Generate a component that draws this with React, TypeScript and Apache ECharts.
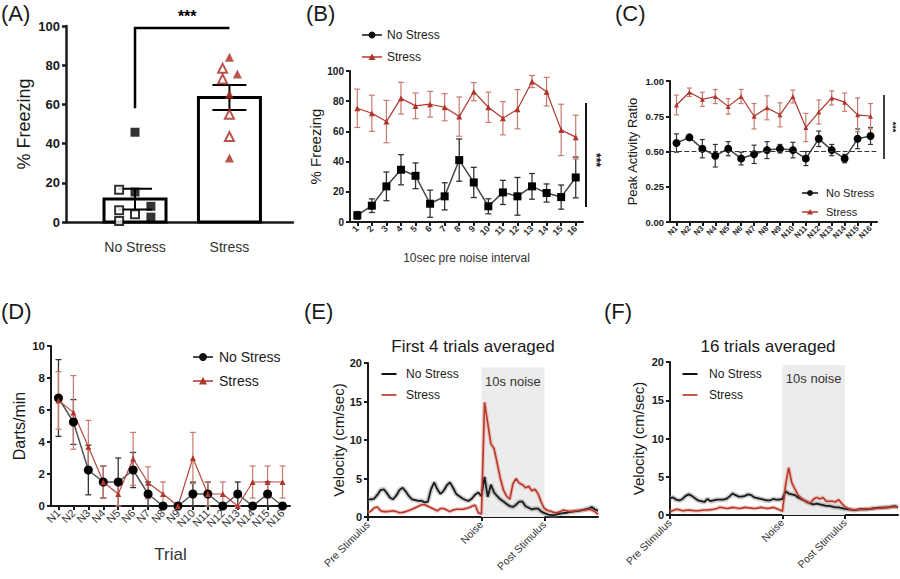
import { useEffect, useRef } from 'react';
import * as echarts from 'echarts';

const FONT = 'Arial, "Liberation Sans", Helvetica, sans-serif';
const INK = '#1a1a1a';
const RED = '#b0362c';
const RED_ERR = '#c97a70';
const GREY_BAND = '#8e8e8e';
const RED_BAND = '#e39a90';

// ---------- Panel A ----------
const A_GROUPS = ['No Stress', 'Stress'];
const A_MEAN = [11.7, 63.5];
const A_SEM = [5.3, 6.4];
const A_NS_FILLED = [45.8, 15.3, 8, 2.5];
const A_NS_OPEN = [16.5, 6, 3.9, 0.5];
const A_S_FILLED = [84, 75.5, 65.2, 32.6];
const A_S_OPEN = [78.4, 73, 55, 43.6];
const A_BRACKET_LOW = 58;
const A_BRACKET_HIGH = 99;
// layout (axis units) for the categorical positions and point jitter
const A_POS = [0.304, 0.72];
const A_JIT_NS_FILLED = [0, 0, 0.07, 0.07];
const A_JIT_NS_OPEN = [-0.07, -0.07, 0, -0.07];
const A_JIT_S_FILLED = [0, 0.035, 0, 0];
const A_JIT_S_OPEN = [-0.03, -0.03, 0, 0];

// ---------- Panel B ----------
const B_CATS = ['1', '2', '3', '4', '5', '6', '7', '8', '9', '10', '11', '12', '13', '14', '15', '16'];
const B_NS = [4.4, 10.8, 23.6, 34.6, 30.6, 12.1, 17, 41, 26.2, 10.4, 19.6, 17, 23.6, 19.2, 16.5, 29.5];
const B_NS_ERR = [2.5, 4.5, 9.5, 10, 8.5, 9, 9, 14, 10, 5, 8, 12.5, 8.5, 6, 8, 13.5];
const B_S = [75.3, 72, 66.5, 82, 76.9, 78, 76, 69.8, 86.3, 76, 68.7, 74.7, 93, 86.3, 61, 56.2];
const B_S_ERR = [12.7, 12, 14, 10.5, 8.5, 8.5, 9, 13, 6, 10, 11, 13, 4, 9.5, 17, 14.5];

// ---------- Panel C ----------
const N_CATS = ['N1', 'N2', 'N3', 'N4', 'N5', 'N6', 'N7', 'N8', 'N9', 'N10', 'N11', 'N12', 'N13', 'N14', 'N15', 'N16'];
const C_NS = [0.56, 0.6, 0.52, 0.47, 0.52, 0.45, 0.48, 0.51, 0.52, 0.51, 0.45, 0.59, 0.51, 0.45, 0.59, 0.61];
const C_NS_ERR = [0.065, 0.02, 0.065, 0.08, 0.05, 0.045, 0.065, 0.06, 0.03, 0.055, 0.05, 0.055, 0.04, 0.03, 0.07, 0.06];
const C_S = [0.83, 0.92, 0.87, 0.89, 0.82, 0.89, 0.75, 0.81, 0.76, 0.89, 0.67, 0.78, 0.88, 0.85, 0.76, 0.75];
const C_S_ERR = [0.07, 0.03, 0.05, 0.05, 0.055, 0.05, 0.09, 0.085, 0.085, 0.045, 0.1, 0.085, 0.05, 0.065, 0.12, 0.09];
const C_CHANCE = 0.5;

// ---------- Panel D ----------
const D_NS = [6.75, 5.25, 2.25, 1.5, 1.5, 2.25, 0.75, 0, 0, 0.75, 0.75, 0, 0.75, 0, 0.75, 0];
const D_NS_ERR = [2.4, 1.4, 1.55, 1, 1.5, 1.1, 0.75, 0, 0, 0.75, 0.75, 0, 0.75, 0, 0.75, 0];
const D_S = [6.6, 5.85, 3.7, 1.5, 0.75, 2.95, 1.45, 0.75, 0, 3.0, 0.75, 0.75, 0, 1.5, 1.5, 1.5];
const D_S_ERR = [1.8, 2.3, 1.65, 1, 0.75, 1.65, 1, 0.75, 0, 1.6, 0.75, 0.75, 0, 1, 1, 1];

// ---------- Panels E / F (sample index along the trial) ----------
const T_MAX = 73;
const T_TICKS = [0, 36, 56];
const T_TICK_LABELS = ['Pre Stimulus', 'Noise', 'Post Stimulus'];
const NOISE_START = 36;
const NOISE_END = 56;
const E_NS = [2.3, 2.3, 2.4, 2.9, 3.5, 3.6, 3.1, 2.5, 2.3, 2.8, 3.5, 3.8, 3.3, 2.7, 2.3, 2.2, 2.1, 2.1, 1.9, 2.0,
  3.6, 4.5, 3.6, 3.0, 3.4, 4.1, 4.5, 3.8, 3.0, 2.7, 2.4, 2.2, 2.1, 2.4, 2.9, 3.2, 2.7, 5.2, 2.6, 4.2,
  3.2, 2.7, 2.3, 2.0, 1.7, 1.4, 1.3, 1.6, 2.0, 2.0, 1.4, 1.2, 1.0, 1.1, 1.1, 0.7, 0.5, 0.35, 0.25, 0.25,
  0.35, 0.45, 0.5, 0.55, 0.65, 0.7, 0.75, 0.8, 0.9, 1.0, 1.1, 1.3, 1.0, 0.8];
const E_S = [0.55, 0.8, 1.2, 1.3, 0.8, 0.7, 0.7, 0.75, 0.8, 0.7, 0.55, 0.6, 0.7, 0.85, 1.0, 1.2, 1.4, 1.6, 1.6, 1.4,
  1.2, 1.0, 0.8, 1.1, 1.1, 0.9, 0.7, 0.9, 1.0, 1.0, 1.0, 1.1, 1.2, 1.4, 1.55, 0.55, 0.4, 14.9, 12.2, 9.5,
  8.9, 7.0, 5.0, 3.5, 2.7, 2.3, 4.3, 5.0, 4.4, 4.2, 3.8, 4.0, 3.4, 3.6, 3.0, 1.9, 1.1, 0.85, 0.75, 0.6,
  0.55, 0.7, 0.9, 0.8, 0.7, 0.75, 0.8, 0.85, 0.9, 0.9, 1.0, 0.9, 0.7, 0.35];
const F_NS = [2.2, 2.3, 2.0, 1.9, 2.1, 2.5, 2.7, 2.5, 2.2, 1.9, 1.8, 1.7, 2.1, 1.8, 1.9, 2.0, 2.0, 2.0, 2.1, 2.4,
  2.8, 2.6, 2.4, 2.4, 2.5, 2.7, 2.6, 2.3, 2.2, 2.1, 2.0, 1.9, 1.9, 2.1, 2.0, 2.0, 2.1, 3.1, 2.8, 2.7,
  2.6, 2.3, 2.1, 1.9, 1.7, 1.5, 1.4, 1.5, 1.4, 1.3, 1.2, 1.2, 1.1, 1.0, 1.0, 0.9, 0.8, 0.75, 0.7, 0.65,
  0.7, 0.75, 0.75, 0.75, 0.8, 0.85, 0.9, 0.95, 0.95, 1.0, 1.0, 1.1, 1.15, 1.0];
const F_S = [0.45, 0.6, 0.75, 0.7, 0.55, 0.6, 0.65, 0.6, 0.55, 0.55, 0.6, 0.65, 0.65, 0.7, 0.75, 0.85, 1.0, 0.95, 0.85, 0.9,
  1.0, 0.95, 0.85, 0.9, 1.0, 0.95, 0.9, 0.85, 0.9, 1.0, 0.95, 0.85, 0.9, 1.0, 0.85, 0.7, 0.5, 3.9, 6.2, 4.2,
  3.4, 2.6, 2.2, 1.9, 1.6, 1.6, 2.1, 2.3, 2.1, 2.3, 1.8, 1.8, 1.8, 1.7, 2.0, 1.5, 1.1, 0.85, 0.7, 0.65,
  0.7, 0.75, 0.75, 0.8, 0.8, 0.85, 0.85, 0.9, 0.95, 0.95, 1.0, 1.05, 1.1, 1.0];
const E_NOISE_TOP = 19.4;
const F_NOISE_TOP = 19.6;

// ---------- helpers ----------
function errRender(capW: number, color: string, lw: number) {
  return (_p: any, api: any) => {
    const x = api.value(0);
    const m = api.value(1);
    const e = api.value(2);
    const t = api.coord([x, m + e]);
    const b = api.coord([x, m - e]);
    const h = capW / 2;
    const st = { stroke: color, lineWidth: lw };
    return {
      type: 'group',
      children: [
        { type: 'line', shape: { x1: t[0], y1: t[1], x2: b[0], y2: b[1] }, style: st },
        { type: 'line', shape: { x1: t[0] - h, y1: t[1], x2: t[0] + h, y2: t[1] }, style: st },
        { type: 'line', shape: { x1: b[0] - h, y1: b[1], x2: b[0] + h, y2: b[1] }, style: st },
      ],
    };
  };
}

function errSeries(gi: number, mean: number[], err: number[], capW: number, color: string, lw: number, z: number) {
  return {
    type: 'custom',
    xAxisIndex: gi,
    yAxisIndex: gi,
    data: mean.map((m, i) => [i, m, err[i]]),
    encode: { x: 0, y: 1 },
    renderItem: errRender(capW, color, lw),
    silent: true,
    z,
  };
}

function yAx(gi: number, min: number, max: number, interval: number, name: string, nameGap: number,
  nameSize: number, labelSize: number, lw: number, fmt?: (v: number) => string) {
  return {
    type: 'value', gridIndex: gi, min, max, interval,
    name, nameLocation: 'middle', nameGap, nameRotate: 90,
    nameTextStyle: { fontFamily: FONT, fontSize: nameSize, color: INK },
    axisLine: { show: true, lineStyle: { color: INK, width: lw } },
    axisTick: { show: true, length: 4, lineStyle: { color: INK, width: lw } },
    axisLabel: { fontFamily: FONT, fontSize: labelSize, fontWeight: 'bold', color: INK, margin: 6, formatter: fmt },
    splitLine: { show: false },
  };
}

function catX(gi: number, data: string[], labelSize: number, weight: string, lw: number,
  name?: string, nameGap?: number, nameSize?: number) {
  return {
    type: 'category', gridIndex: gi, data, boundaryGap: true,
    axisLine: { show: true, lineStyle: { color: INK, width: lw } },
    axisTick: { show: true, alignWithLabel: true, interval: 0, length: 4, lineStyle: { color: INK, width: lw } },
    axisLabel: { interval: 0, rotate: 45, fontFamily: FONT, fontSize: labelSize, fontWeight: weight, color: '#333', margin: 5 },
    name, nameLocation: 'middle', nameGap,
    nameTextStyle: { fontFamily: FONT, fontSize: nameSize, color: '#333' },
    splitLine: { show: false },
  };
}

function timeX(gi: number) {
  return {
    type: 'value', gridIndex: gi, min: 0, max: T_MAX,
    axisLine: { show: true, lineStyle: { color: INK, width: 2 } },
    axisTick: { show: true, customValues: T_TICKS, length: 4, lineStyle: { color: INK, width: 2 } },
    axisLabel: {
      customValues: T_TICKS, rotate: 45, fontFamily: FONT, fontSize: 10.5, color: '#333', margin: 6,
      formatter: (v: number) => T_TICK_LABELS[T_TICKS.indexOf(v)] ?? '',
    },
    splitLine: { show: false },
  };
}

type LegItem = { label: string; color: string; marker: 'rect' | 'circle' | 'triangle' | 'none' };
function legend(cx: number, y0: number, dy: number, lineLen: number, textX: number, fs: number, ms: number, items: LegItem[]) {
  const els: any[] = [];
  items.forEach((it, k) => {
    const y = y0 + k * dy;
    els.push({ type: 'line', shape: { x1: cx - lineLen / 2, y1: y, x2: cx + lineLen / 2, y2: y }, style: { stroke: it.color, lineWidth: it.marker === 'none' ? 2 : 1.5 } });
    if (it.marker === 'circle' || it.marker === 'rect') {
      els.push({ type: 'circle', shape: { cx, cy: y, r: ms / 2 }, style: { fill: it.color } });
    } else if (it.marker === 'triangle') {
      const h = ms * 0.85;
      els.push({ type: 'polygon', shape: { points: [[cx, y - h / 2 - 0.5], [cx - ms / 2, y + h / 2], [cx + ms / 2, y + h / 2]] }, style: { fill: it.color } });
    }
    els.push({ type: 'text', x: textX, y, style: { text: it.label, font: `${fs}px ${FONT}`, fill: INK, verticalAlign: 'middle', textVerticalAlign: 'middle' } });
  });
  return els;
}

function label(text: string, x: number, y: number, size: number, align = 'left', weight = 'normal') {
  return { type: 'text', x, y, style: { text, font: `${weight} ${size}px ${FONT}`, fill: INK, align, textAlign: align, verticalAlign: 'top', textVerticalAlign: 'top' } };
}

function buildOption() {
  const grids = [
    { left: 66, top: 26, width: 227, height: 196 },
    { left: 350, top: 71, width: 233, height: 151 },
    { left: 670, top: 81, width: 207, height: 141 },
    { left: 51, top: 346, width: 239, height: 160 },
    { left: 368, top: 363, width: 230, height: 154 },
    { left: 670, top: 362, width: 228, height: 153 },
  ];

  const xAxis: any[] = [
    {
      type: 'value', gridIndex: 0, min: 0, max: 1,
      axisLine: { show: true, lineStyle: { color: INK, width: 2.5 } },
      axisTick: { show: false },
      axisLabel: {
        customValues: A_POS, fontFamily: FONT, fontSize: 14, color: '#333', margin: 18,
        formatter: (v: number) => A_GROUPS[A_POS.indexOf(v)] ?? '',
      },
      splitLine: { show: false },
    },
    catX(1, B_CATS, 9, 'bold', 2, '10sec pre noise interval', 30, 12),
    catX(2, N_CATS, 8, 'bold', 2),
    catX(3, N_CATS, 11, 'normal', 2, 'Trial', 40, 17),
    timeX(4),
    timeX(5),
  ];

  const yAxis: any[] = [
    yAx(0, 0, 100, 20, '% Freezing', 33, 18, 13, 2.5),
    yAx(1, 0, 100, 20, '% Freezing', 27, 15, 10, 2),
    yAx(2, 0, 1, 0.25, 'Peak Activity Ratio', 31, 13, 9.5, 2, (v: number) => v.toFixed(2)),
    yAx(3, 0, 10, 2, 'Darts/min', 24, 16, 11.5, 2),
    yAx(4, 0, 20, 5, 'Velocity (cm/sec)', 22, 15, 11, 2),
    yAx(5, 0, 20, 5, 'Velocity (cm/sec)', 24, 15, 11, 2),
  ];

  const series: any[] = [];

  // ----- A -----
  series.push({
    type: 'custom', xAxisIndex: 0, yAxisIndex: 0, silent: true, z: 2,
    data: A_MEAN.map((m, i) => [A_POS[i], m, A_SEM[i]]),
    encode: { x: 0, y: 1 },
    renderItem: (_p: any, api: any) => {
      const x = api.value(0);
      const m = api.value(1);
      const e = api.value(2);
      const p0 = api.coord([x, 0]);
      const p1 = api.coord([x, m]);
      const t = api.coord([x, m + e]);
      const b = api.coord([x, m - e]);
      const w = 62;
      const cap = 17;
      const st = { stroke: '#000', lineWidth: 2 };
      return {
        type: 'group',
        children: [
          { type: 'rect', shape: { x: p1[0] - w / 2, y: p1[1], width: w, height: p0[1] - p1[1] }, style: { fill: '#fff', stroke: '#000', lineWidth: 3 } },
          { type: 'line', shape: { x1: t[0], y1: t[1], x2: b[0], y2: b[1] }, style: st },
          { type: 'line', shape: { x1: t[0] - cap, y1: t[1], x2: t[0] + cap, y2: t[1] }, style: st },
          { type: 'line', shape: { x1: b[0] - cap, y1: b[1], x2: b[0] + cap, y2: b[1] }, style: st },
        ],
      };
    },
  });
  series.push({
    type: 'scatter', xAxisIndex: 0, yAxisIndex: 0, symbol: 'rect', symbolSize: 9, z: 5,
    data: A_NS_FILLED.map((v, i) => [A_POS[0] + A_JIT_NS_FILLED[i], v]),
    itemStyle: { color: '#000' },
  });
  series.push({
    type: 'scatter', xAxisIndex: 0, yAxisIndex: 0, symbol: 'rect', symbolSize: 8, z: 5,
    data: A_NS_OPEN.map((v, i) => [A_POS[0] + A_JIT_NS_OPEN[i], v]),
    itemStyle: { color: '#fff', borderColor: '#000', borderWidth: 2 },
  });
  series.push({
    type: 'scatter', xAxisIndex: 0, yAxisIndex: 0, symbol: 'triangle', symbolSize: 9, z: 5,
    data: A_S_FILLED.map((v, i) => [A_POS[1] + A_JIT_S_FILLED[i], v]),
    itemStyle: { color: '#a82a1e' },
  });
  series.push({
    type: 'scatter', xAxisIndex: 0, yAxisIndex: 0, symbol: 'triangle', symbolSize: 9, z: 5,
    data: A_S_OPEN.map((v, i) => [A_POS[1] + A_JIT_S_OPEN[i], v]),
    itemStyle: { color: '#fff', borderColor: '#a82a1e', borderWidth: 2 },
  });
  series.push({
    type: 'custom', xAxisIndex: 0, yAxisIndex: 0, silent: true, clip: false, z: 6,
    data: [[A_POS[0], A_BRACKET_LOW, A_POS[1], A_BRACKET_HIGH]],
    encode: { x: [0, 2], y: [1, 3] },
    renderItem: (_p: any, api: any) => {
      const a = api.coord([api.value(0), api.value(1)]);
      const b = api.coord([api.value(0), api.value(3)]);
      const c = api.coord([api.value(2), api.value(3)]);
      return {
        type: 'group',
        children: [
          { type: 'polyline', shape: { points: [a, b, c] }, style: { stroke: '#000', lineWidth: 2.5, fill: 'none' } },
          { type: 'text', x: (b[0] + c[0]) / 2 + 5, y: b[1] - 3, style: { text: '***', font: `bold 16px ${FONT}`, fill: '#000', align: 'center', textAlign: 'center', verticalAlign: 'bottom', textVerticalAlign: 'bottom' } },
        ],
      };
    },
  });

  // ----- B -----
  series.push(errSeries(1, B_NS, B_NS_ERR, 6, '#333', 1.3, 2));
  series.push(errSeries(1, B_S, B_S_ERR, 6, RED_ERR, 1.2, 2));
  series.push({
    type: 'line', name: 'No Stress', xAxisIndex: 1, yAxisIndex: 1, data: B_NS, symbol: 'rect', symbolSize: 8,
    itemStyle: { color: '#000' }, lineStyle: { color: '#444', width: 1.5 }, z: 4,
  });
  series.push({
    type: 'line', name: 'Stress', xAxisIndex: 1, yAxisIndex: 1, data: B_S, symbol: 'triangle', symbolSize: 6,
    itemStyle: { color: RED }, lineStyle: { color: RED, width: 1.2 }, z: 4,
  });

  // ----- C -----
  series.push(errSeries(2, C_NS, C_NS_ERR, 5, '#333', 1.2, 2));
  series.push(errSeries(2, C_S, C_S_ERR, 5, RED_ERR, 1.2, 2));
  series.push({
    type: 'line', name: 'No Stress', xAxisIndex: 2, yAxisIndex: 2, data: C_NS, symbol: 'circle', symbolSize: 8,
    itemStyle: { color: '#000' }, lineStyle: { color: '#444', width: 1.5 }, z: 4,
    markLine: {
      silent: true, symbol: 'none', label: { show: false },
      lineStyle: { type: 'dashed', color: '#333', width: 1.2 },
      data: [{ yAxis: C_CHANCE }],
    },
  });
  series.push({
    type: 'line', name: 'Stress', xAxisIndex: 2, yAxisIndex: 2, data: C_S, symbol: 'triangle', symbolSize: 5,
    itemStyle: { color: RED }, lineStyle: { color: RED, width: 1.2 }, z: 4,
  });

  // ----- D -----
  series.push(errSeries(3, D_NS, D_NS_ERR, 6, '#333', 1.3, 2));
  series.push(errSeries(3, D_S, D_S_ERR, 6, RED_ERR, 1.2, 2));
  series.push({
    type: 'line', name: 'No Stress', xAxisIndex: 3, yAxisIndex: 3, data: D_NS, symbol: 'circle', symbolSize: 9,
    itemStyle: { color: '#000' }, lineStyle: { color: '#555', width: 1.5 }, z: 4,
  });
  series.push({
    type: 'line', name: 'Stress', xAxisIndex: 3, yAxisIndex: 3, data: D_S, symbol: 'triangle', symbolSize: 6,
    itemStyle: { color: RED }, lineStyle: { color: '#b9493e', width: 1.2 }, z: 4,
  });

  // ----- E / F -----
  const trace = (gi: number, ns: number[], s: number[], top: number) => {
    const toXY = (arr: number[]) => arr.map((v, i) => [i, v]);
    series.push({
      type: 'line', xAxisIndex: gi, yAxisIndex: gi, data: toXY(ns), showSymbol: false, silent: true, z: 1,
      lineStyle: { color: GREY_BAND, width: 5, opacity: 0.45 },
      markArea: {
        silent: true,
        itemStyle: { color: '#ececec' },
        label: { show: true, position: 'insideTop', distance: 7, fontFamily: FONT, fontSize: 13, color: '#333' },
        data: [[{ name: '10s noise', xAxis: NOISE_START, yAxis: 0 }, { xAxis: NOISE_END, yAxis: top }]],
      },
    });
    series.push({
      type: 'line', xAxisIndex: gi, yAxisIndex: gi, data: toXY(s), showSymbol: false, silent: true, z: 1,
      lineStyle: { color: RED_BAND, width: 4, opacity: 0.5 },
    });
    series.push({
      type: 'line', xAxisIndex: gi, yAxisIndex: gi, data: toXY(ns), showSymbol: false, silent: true, z: 3,
      lineStyle: { color: '#1a1a1a', width: 1.8 },
    });
    series.push({
      type: 'line', xAxisIndex: gi, yAxisIndex: gi, data: toXY(s), showSymbol: false, silent: true, z: 3,
      lineStyle: { color: '#b8362a', width: 1.6 },
    });
  };
  trace(4, E_NS, E_S, E_NOISE_TOP);
  trace(5, F_NS, F_S, F_NOISE_TOP);

  const mk: LegItem[] = [
    { label: 'No Stress', color: '#111', marker: 'circle' },
    { label: 'Stress', color: RED, marker: 'triangle' },
  ];
  const ln: LegItem[] = [
    { label: 'No Stress', color: '#111', marker: 'none' },
    { label: 'Stress', color: '#c0584c', marker: 'none' },
  ];

  const graphic: any[] = [
    label('(A)', 1, 2, 22),
    label('(B)', 306, 2, 22),
    label('(C)', 615, 2, 22),
    label('(D)', 1, 300, 22),
    label('(E)', 304, 300, 22),
    label('(F)', 604, 300, 22),
    label('First 4 trials averaged', 473, 338, 17, 'center'),
    label('16 trials averaged', 768, 338, 17, 'center'),
    ...legend(372, 35, 22, 20, 387, 12, 7, mk),
    ...legend(810, 193, 19, 16, 826, 11, 6, mk),
    ...legend(203, 357, 24, 20, 219, 14, 8, mk),
    ...legend(389, 374, 21, 15, 406, 12, 0, ln),
    ...legend(690, 374, 21, 15, 709, 12, 0, ln),
    { type: 'line', shape: { x1: 586, y1: 103, x2: 586, y2: 207 }, style: { stroke: '#111', lineWidth: 2 } },
    { type: 'text', x: 596, y: 160, rotation: -Math.PI / 2, style: { text: '***', font: `bold 12px ${FONT}`, fill: '#111', align: 'center', textAlign: 'center', verticalAlign: 'middle', textVerticalAlign: 'middle' } },
    { type: 'line', shape: { x1: 884, y1: 95, x2: 884, y2: 159 }, style: { stroke: '#111', lineWidth: 1.6 } },
    { type: 'text', x: 893, y: 127, rotation: -Math.PI / 2, style: { text: '***', font: `bold 9px ${FONT}`, fill: '#111', align: 'center', textAlign: 'center', verticalAlign: 'middle', textVerticalAlign: 'middle' } },
  ];

  return {
    animation: false,
    backgroundColor: '#fff',
    grid: grids,
    xAxis,
    yAxis,
    series,
    graphic,
  };
}

export default function App() {
  const ref = useRef<HTMLDivElement>(null);
  useEffect(() => {
    document.body.style.margin = '0';
    const chart = echarts.init(ref.current!, null, { renderer: 'svg' });
    chart.setOption(buildOption() as any);
    return () => chart.dispose();
  }, []);
  return <div ref={ref} style={{ width: 900, height: 579, background: '#fff' }} />;
}
